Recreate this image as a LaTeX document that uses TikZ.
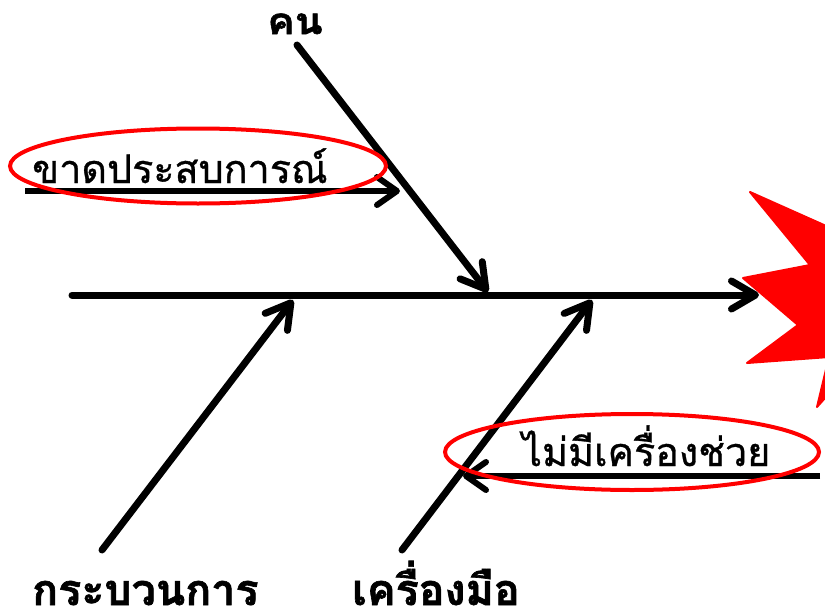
\documentclass[tikz,border=0pt]{standalone}
\usepackage{fontspec}
\usepackage{graphicx}
\newfontfamily\thai[Script=Thai,FakeBold=0.8]{Loma}
\newfontfamily\thaiheavy[Script=Thai,FakeBold=1.5]{Loma}
\usetikzlibrary{arrows.meta,shapes.geometric}
\newcommand{\nodepth}[1]{\raisebox{0pt}[\height][0pt]{#1}}
\begin{document}
\begin{tikzpicture}[x=1pt,y=-1pt,
  bigarrow/.style={line width=7pt, line cap=round, -{Straight Barb[length=24pt,width=28pt,line cap=round,line join=round]}},
  subarrow/.style={line width=6pt, line cap=butt, -{Straight Barb[length=20pt,width=28pt,line cap=round,line join=round]}},
  ring/.style={draw=red, line width=4pt, ellipse, inner sep=0pt},
  cat/.style={inner sep=0pt, font=\thaiheavy\bfseries\fontsize{43}{43}\selectfont},
  cause/.style={inner sep=0pt, font=\thai\fontsize{39.5}{40}\selectfont}]
\useasboundingbox (0,0) rectangle (825,616);
\clip (0,0) rectangle (825,616);
% star (effect)
\fill[red, draw=red, line width=2pt, line join=round]
  (880,250) -- (750,192) -- (810,265) -- (743,278) -- (798,325) -- (747,363)
  -- (829,357) -- (817,407) -- (850,370) -- (880,370) -- cycle;
% coordinates
\coordinate (sA) at (72,295);
\coordinate (sB) at (759,295);
\coordinate (kA) at (297,45);
\coordinate (kB) at (488,292);
\coordinate (pA) at (102,550);
\coordinate (pB) at (293,300);
\coordinate (tA) at (402,550);
\coordinate (tB) at (592,300);
\coordinate (c1A) at (25,191);
\coordinate (c1B) at (400,191);
\coordinate (c2A) at (820,476);
\coordinate (c2B) at (463,476);
% bones
\draw[bigarrow] (sA) -- (sB);
\draw[bigarrow] (kA) -- (kB);
\draw[bigarrow] (pA) -- (pB);
\draw[bigarrow] (tA) -- (tB);
\draw[subarrow] (c1A) -- (c1B);
\draw[subarrow] (c2A) -- (c2B);
% labels
\node[cat, anchor=base] (kn) at (295,34) {\scalebox{0.95}[0.85]{คน}};
\node[cat, anchor=base west] (proc) at (32,605) {\nodepth{กระบวนการ}};
\node[cat, anchor=base west] (tool) at (352,605) {\nodepth{เครื่องมือ}};
\node[cause, anchor=base west] (exp) at (32,183) {ขาดประสบการณ์};
\node[cause, anchor=base west] (aid) at (522,466) {ไม่มีเครื่องช่วย};
% ellipses
\node[ring, minimum width=376pt, minimum height=75pt] (r1) at (198,166) {};
\node[ring, minimum width=374pt, minimum height=76pt] (r2) at (632,452) {};
\end{tikzpicture}
\end{document}
